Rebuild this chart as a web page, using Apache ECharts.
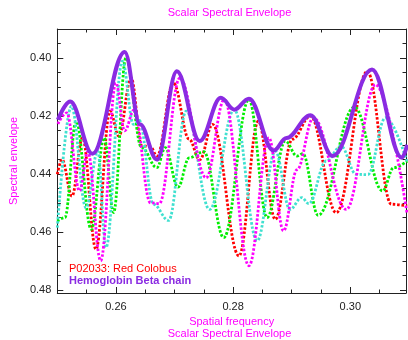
<!DOCTYPE html>
<html>
<head>
<meta charset="utf-8">
<script src="https://cdn.jsdelivr.net/npm/echarts@6/dist/echarts.min.js"></script>
<style>
  html, body { margin: 0; padding: 0; background: #fff; }
  #chart { width: 408px; height: 340px; }
</style>
</head>
<body>
<div id="chart"></div>
<script>
// [spatial frequency, spectral envelope] at the turning points
const redColobus = [
  [0.2500, 0.4401], [0.2508, 0.4350], [0.2525, 0.4476], [0.2543, 0.4275], [0.2566, 0.4659],
  [0.2590, 0.4183], [0.2605, 0.4269], [0.2626, 0.4069], [0.2644, 0.4302], [0.2659, 0.4306],
  [0.2670, 0.4338], [0.2698, 0.4086], [0.2725, 0.4280], [0.2743, 0.4351], [0.2765, 0.4229],
  [0.2810, 0.4682], [0.2843, 0.4218], [0.2872, 0.4556], [0.2901, 0.4280], [0.2932, 0.4200],
  [0.2976, 0.4533], [0.3029, 0.4046], [0.3070, 0.4504], [0.3097, 0.4510]
];
const greenSeries = [
  [0.2500, 0.4562], [0.2513, 0.4550], [0.2532, 0.4218], [0.2558, 0.4591], [0.2580, 0.4275],
  [0.2596, 0.4533], [0.2617, 0.4000], [0.2644, 0.4309], [0.2670, 0.4378], [0.2684, 0.4309],
  [0.2706, 0.4445], [0.2725, 0.4344], [0.2750, 0.4323], [0.2784, 0.4619], [0.2827, 0.4143],
  [0.2858, 0.4550], [0.2889, 0.4286], [0.2909, 0.4338], [0.2919, 0.4330], [0.2945, 0.4542],
  [0.3007, 0.4169], [0.3055, 0.4458], [0.3074, 0.4378], [0.3097, 0.4355]
];
const cyanSeries = [
  [0.2500, 0.4585], [0.2524, 0.4166], [0.2549, 0.4516], [0.2569, 0.4321], [0.2583, 0.4653],
  [0.2611, 0.4011], [0.2630, 0.4229], [0.2640, 0.4215], [0.2664, 0.4504], [0.2690, 0.4560],
  [0.2720, 0.4183], [0.2760, 0.4522], [0.2802, 0.4178], [0.2841, 0.4630], [0.2872, 0.4321],
  [0.2897, 0.4522], [0.2917, 0.4481], [0.2929, 0.4502], [0.2959, 0.4355], [0.2984, 0.4304],
  [0.3010, 0.4401], [0.3030, 0.4402], [0.3060, 0.4206], [0.3097, 0.4360]
];
const magentaSeries = [
  [0.2501, 0.4227], [0.2516, 0.4189], [0.2538, 0.4458], [0.2552, 0.4323], [0.2574, 0.4699],
  [0.2600, 0.4086], [0.2615, 0.4251], [0.2631, 0.4179], [0.2659, 0.4499], [0.2674, 0.4502],
  [0.2709, 0.4069], [0.2754, 0.4413], [0.2785, 0.4143], [0.2827, 0.4716], [0.2861, 0.4275],
  [0.2886, 0.4596], [0.2909, 0.4385], [0.2937, 0.4206], [0.2993, 0.4522], [0.3043, 0.4092],
  [0.3097, 0.4539]
];
const hemoglobinBeta = [
  [0.2501, 0.4213], [0.2522, 0.4150], [0.2560, 0.4330], [0.2615, 0.3979], [0.2641, 0.4228],
  [0.2670, 0.4350], [0.2704, 0.4046], [0.2743, 0.4286], [0.2779, 0.4137], [0.2802, 0.4178],
  [0.2827, 0.4140], [0.2869, 0.4319], [0.2891, 0.4276], [0.2932, 0.4197], [0.2970, 0.4338],
  [0.3037, 0.4040], [0.3088, 0.4344], [0.3097, 0.4299]
];

const xMajorTicks = [0.26, 0.28, 0.30];
const xMinorTicks = [0.255, 0.265, 0.27, 0.275, 0.285, 0.29, 0.295, 0.305];
const yMajorTicks = [0.40, 0.42, 0.44, 0.46, 0.48];
const yMinorTicks = [0.395, 0.405, 0.41, 0.415, 0.425, 0.43, 0.435, 0.445, 0.45, 0.455, 0.465, 0.47, 0.475];

const X_MIN = 0.25, X_MAX = 0.3095;
const Y_MIN = 0.39, Y_MAX = 0.481;
const FONT = "Liberation Sans, Arial, sans-serif";
const MAGENTA = "#ff00ff";
const FRAME = "#222";
const SMOOTH = 0.38;

function xAxis(position, major, showLabel) {
  return {
    type: "value",
    position: position,
    min: X_MIN,
    max: X_MAX,
    axisLine: { show: major, onZero: false, lineStyle: { color: FRAME, width: 1 } },
    axisTick: {
      show: true,
      inside: true,
      length: major ? 6 : 3.5,
      customValues: major ? xMajorTicks : xMinorTicks,
      lineStyle: { color: FRAME },
    },
    axisLabel: {
      show: showLabel,
      customValues: xMajorTicks,
      margin: 8,
      color: FRAME,
      fontSize: 11,
      fontFamily: FONT,
      formatter: (v) => v.toFixed(2),
    },
    splitLine: { show: false },
  };
}

function yAxis(position, major, showLabel) {
  return {
    type: "value",
    position: position,
    inverse: true,
    min: Y_MIN,
    max: Y_MAX,
    axisLine: { show: major, onZero: false, lineStyle: { color: FRAME, width: 1 } },
    axisTick: {
      show: true,
      inside: true,
      length: major ? 6 : 3.5,
      customValues: major ? yMajorTicks : yMinorTicks,
      lineStyle: { color: FRAME },
    },
    axisLabel: {
      show: showLabel,
      customValues: yMajorTicks,
      margin: 6,
      color: FRAME,
      fontSize: 11,
      fontFamily: FONT,
      formatter: (v) => v.toFixed(2),
    },
    splitLine: { show: false },
  };
}

function dotted(name, data, color) {
  return {
    name: name,
    type: "line",
    data: data,
    smooth: SMOOTH,
    smoothMonotone: "x",
    showSymbol: false,
    lineStyle: { color: color, width: 2.8, type: [2.5, 1.8] },
    itemStyle: { color: color },
  };
}

const chart = echarts.init(document.getElementById("chart"));

const xBottom = xAxis("bottom", true, true);
xBottom.name = "Spatial frequency";
xBottom.nameLocation = "middle";
xBottom.nameGap = 21;
xBottom.nameTextStyle = { color: MAGENTA, fontSize: 11, fontFamily: FONT };

const yLeft = yAxis("left", true, true);
yLeft.name = "Spectral envelope";
yLeft.nameLocation = "middle";
yLeft.nameGap = 36;
yLeft.nameTextStyle = { color: MAGENTA, fontSize: 11, fontFamily: FONT };

const option = {
  backgroundColor: "#fff",
  animation: false,
  textStyle: { fontFamily: FONT },
  title: [
    {
      text: "Scalar Spectral Envelope",
      left: 229.5,
      top: 7,
      padding: 0,
      textAlign: "center",
      textStyle: { color: MAGENTA, fontSize: 11, fontWeight: "normal", fontFamily: FONT },
    },
    {
      text: "Scalar Spectral Envelope",
      left: 229.5,
      top: 328,
      padding: 0,
      textAlign: "center",
      textStyle: { color: MAGENTA, fontSize: 11, fontWeight: "normal", fontFamily: FONT },
    },
  ],
  legend: {
    orient: "vertical",
    left: 58,
    top: 258,
    itemWidth: 0,
    itemHeight: 0,
    itemGap: 1,
    selectedMode: false,
    textStyle: { fontSize: 11, fontFamily: FONT },
    data: [
      { name: "P02033: Red Colobus", textStyle: { color: "#ff0000" } },
      { name: "Hemoglobin Beta chain", textStyle: { color: "#8a2be2", fontWeight: "bold" } },
    ],
  },
  grid: { left: 53, right: 2, top: 29, bottom: 47 },
  xAxis: [
    xBottom,
    xAxis("bottom", false, false),
    xAxis("top", true, false),
    xAxis("top", false, false),
  ],
  yAxis: [
    yLeft,
    yAxis("left", false, false),
    yAxis("right", true, false),
    yAxis("right", false, false),
  ],
  series: [
    dotted("P02033: Red Colobus", redColobus, "#ff0000"),
    dotted("green", greenSeries, "#00ee00"),
    dotted("cyan", cyanSeries, "#40e0d0"),
    dotted("magenta", magentaSeries, "#ff00ff"),
    {
      name: "Hemoglobin Beta chain",
      type: "line",
      data: hemoglobinBeta,
      smooth: SMOOTH,
      smoothMonotone: "x",
      showSymbol: false,
      z: 5,
      lineStyle: { color: "#8a2be2", width: 4 },
      itemStyle: { color: "#8a2be2" },
    },
  ],
};

chart.setOption(option);
</script>
</body>
</html>
